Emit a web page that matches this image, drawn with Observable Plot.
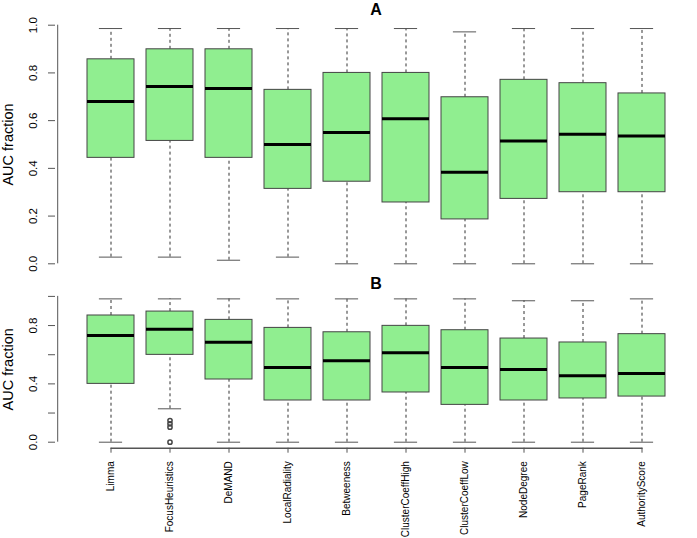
<!DOCTYPE html>
<html>
<head>
<meta charset="utf-8">
<script src="https://cdn.jsdelivr.net/npm/d3@7"></script>
<script src="https://cdn.jsdelivr.net/npm/@observablehq/plot@0.6"></script>
<style>
  html, body { margin: 0; padding: 0; background: #fff; }
  #chart svg { display: block; overflow: visible; background: none; }
</style>
</head>
<body>
<div id="chart"></div>
<script>
const categories = ["Limma", "FocusHeuristics", "DeMAND", "LocalRadiality", "Betweeness",
  "ClusterCoeffHigh", "ClusterCoeffLow", "NodeDegree", "PageRank", "AuthorityScore"];

// Panel A
const aMin = [0.028, 0.028, 0.015, 0.028, 0.0, 0.0, 0.0, 0.0, 0.0, 0.0];
const aQ1  = [0.444, 0.515, 0.444, 0.314, 0.344, 0.257, 0.186, 0.272, 0.300, 0.300];
const aMed = [0.680, 0.743, 0.735, 0.500, 0.550, 0.608, 0.384, 0.515, 0.543, 0.536];
const aQ3  = [0.857, 0.899, 0.899, 0.729, 0.800, 0.800, 0.698, 0.771, 0.757, 0.714];
const aMax = [0.986, 0.986, 0.986, 0.986, 0.986, 0.986, 0.972, 0.986, 0.986, 0.986];

// Panel B
const bMin = [0.0, 0.229, 0.0, 0.0, 0.0, 0.0, 0.0, 0.0, 0.0, 0.0];
const bQ1  = [0.400, 0.599, 0.430, 0.286, 0.286, 0.341, 0.256, 0.286, 0.300, 0.313];
const bMed = [0.732, 0.775, 0.686, 0.512, 0.558, 0.613, 0.512, 0.498, 0.455, 0.471];
const bQ3  = [0.869, 0.896, 0.839, 0.784, 0.754, 0.798, 0.768, 0.711, 0.684, 0.741];
const bMax = [0.983, 0.983, 0.983, 0.983, 0.983, 0.983, 0.983, 0.970, 0.970, 0.983];
const bOutCat = ["FocusHeuristics", "FocusHeuristics", "FocusHeuristics", "FocusHeuristics"];
const bOutVal = [0.149, 0.126, 0.103, 0.0];

const aTicks = [0, 0.2, 0.4, 0.6, 0.8, 1.0];
const aTickLabels = [0, 0.2, 0.4, 0.6, 0.8, 1.0];
const bTicks = [0, 0.2, 0.4, 0.6, 0.8, 1.0];
const bTickLabels = [0, 0.4, 0.8];

const FONT = "'Liberation Sans', Arial, Helvetica, sans-serif";
const W = 697;
const xScale = {type: "band", domain: categories, range: [72.7, 678.6], padding: 0.2, axis: null};

function rows(mn, q1, md, q3, mx) {
  return categories.map((c, i) => ({cat: c, min: mn[i], q1: q1[i], med: md[i], q3: q3[i], max: mx[i]}));
}

function panel({data, title, titleDy, ticks, tickLabels, height, marginTop, marginBottom, outliers, xLabels}) {
  const marks = [
    // y axis line spanning 0..1, placed at the plot's left edge (55px)
    Plot.ruleX([categories[0]], {x: d => d, y1: () => 0, y2: () => 1, dx: -53.3, stroke: "#555"}),
    Plot.axisY({ticks, tickSize: 7, tickFormat: () => "", stroke: "#555", label: null}),
    Plot.text(tickLabels, {y: d => d, text: d => d3.format(".1f")(d), frameAnchor: "left",
      dx: -22, rotate: -90, textAnchor: "middle", lineAnchor: "middle", fontSize: 11.5, fill: "#000"}),
    Plot.text(["AUC fraction"], {text: d => d, frameAnchor: "left", dx: -47, rotate: -90,
      textAnchor: "middle", lineAnchor: "middle", fontSize: 14.5, fill: "#000"}),
    Plot.text([title], {text: d => d, frameAnchor: "top", dy: titleDy, fontSize: 16,
      lineAnchor: "middle", fontWeight: "bold", fill: "#000"}),
    Plot.ruleX(data, {x: "cat", y1: "q3", y2: "max", stroke: "#333", strokeDasharray: "3,3"}),
    Plot.ruleX(data, {x: "cat", y1: "min", y2: "q1", stroke: "#333", strokeDasharray: "3,3"}),
    Plot.tickY(data, {x: "cat", y: "max", stroke: "#555", insetLeft: 11.9, insetRight: 11.9}),
    Plot.tickY(data, {x: "cat", y: "min", stroke: "#555", insetLeft: 11.9, insetRight: 11.9}),
    Plot.barY(data, {x: "cat", y1: "q1", y2: "q3", fill: "#90EE90", stroke: "#444", strokeWidth: 1}),
    Plot.tickY(data, {x: "cat", y: "med", stroke: "#000", strokeWidth: 3})
  ];
  if (outliers) {
    marks.push(Plot.dot(outliers, {x: "cat", y: "v", r: 2.1, stroke: "#444", fill: "none"}));
  }
  if (xLabels) {
    const ends = [categories[0], categories[categories.length - 1]];
    marks.push(
      Plot.line(ends, {x: d => d, y: () => 0, dy: 6, stroke: "#555"}),
      Plot.axisX({tickSize: 5, dy: 6, tickFormat: () => "", stroke: "#555", label: null}),
      Plot.text(categories, {x: d => d, text: d => d, frameAnchor: "bottom", dy: 19,
        rotate: -90, textAnchor: "end", lineAnchor: "middle", fontSize: 10, fill: "#000"})
    );
  }
  return Plot.plot({
    width: W, height, marginTop, marginBottom, marginLeft: 55, marginRight: 1,
    style: {fontFamily: FONT, overflow: "visible", background: "none"},
    x: xScale,
    y: {domain: [0, 1], axis: null},
    marks
  });
}

const chart = document.getElementById("chart");
chart.appendChild(panel({
  data: rows(aMin, aQ1, aMed, aQ3, aMax), title: "A", titleDy: -15.5, ticks: aTicks, tickLabels: aTickLabels,
  height: 278, marginTop: 24.7, marginBottom: 14.7
}));
chart.appendChild(panel({
  data: rows(bMin, bQ1, bMed, bQ3, bMax), title: "B", titleDy: -12.9, ticks: bTicks, tickLabels: bTickLabels,
  height: 260, marginTop: 17.9, marginBottom: 96.3,
  outliers: bOutCat.map((c, i) => ({cat: c, v: bOutVal[i]})), xLabels: true
}));
</script>
</body>
</html>
